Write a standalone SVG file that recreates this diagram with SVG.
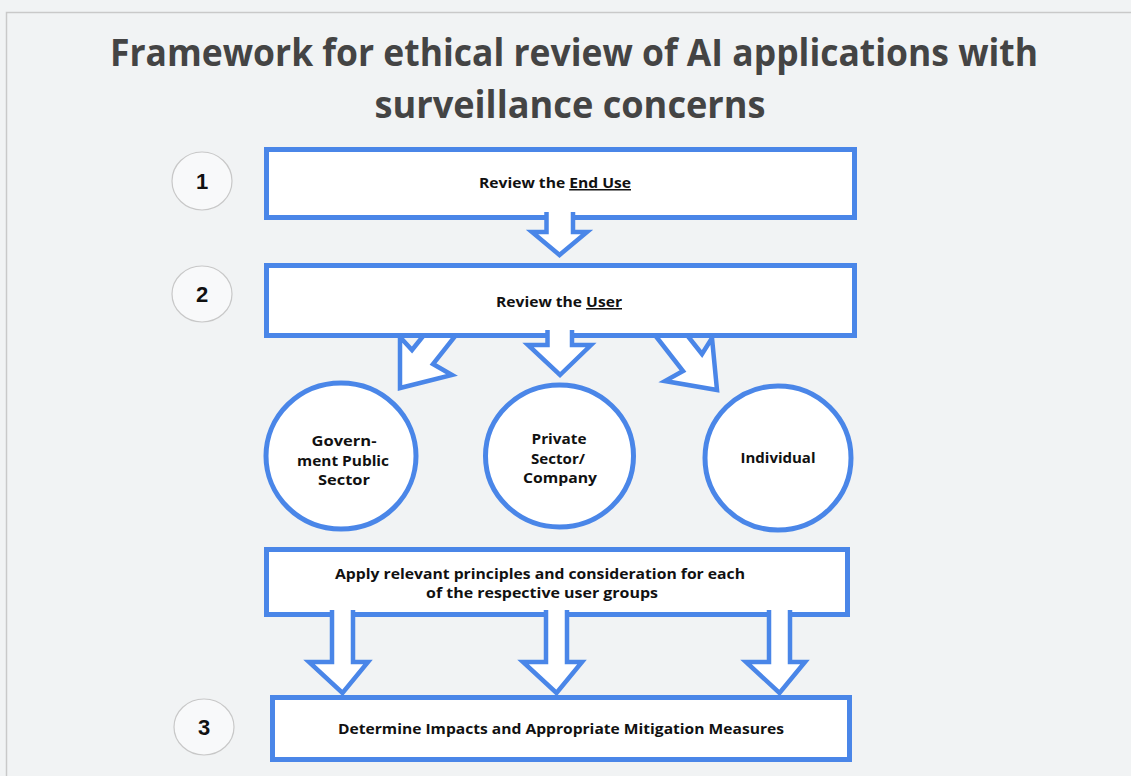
<svg xmlns="http://www.w3.org/2000/svg" width="1131" height="776" viewBox="0 0 1131 776">
  <style>
    .bg { fill: #f1f3f4; }
    .frame { fill: #f1f3f4; stroke: #c9c9c9; stroke-width: 1.5; }
    .title { font-family: "Open Sans", "Liberation Sans", sans-serif; font-weight: 700; font-size: 37px; fill: #444444; text-anchor: middle; }
    .box { fill: #ffffff; stroke: #4a86e8; stroke-width: 5; stroke-linejoin: miter; }
    .ring { fill: #ffffff; stroke: #4a86e8; stroke-width: 5; }
    .arrow { fill: #ffffff; stroke: #4a86e8; stroke-width: 4.5; stroke-linejoin: miter; }
    .num { fill: #f8f9fa; stroke: #c8c8c8; stroke-width: 1.2; }
    .numtxt { font-family: "Liberation Sans", Arial, sans-serif; font-weight: 700; font-size: 22px; fill: #111111; text-anchor: middle; }
    .label { font-family: "Open Sans", "Liberation Sans", sans-serif; font-weight: 700; font-size: 15px; fill: #111111; text-anchor: middle; }
    .u { text-decoration: underline; }
  </style>

  <rect class="bg" x="0" y="0" width="1131" height="776"/>
  <rect class="frame" x="6.5" y="12.5" width="1200" height="800"/>

  <g id="title">
    <text class="title" x="574" y="66" textLength="928" lengthAdjust="spacingAndGlyphs">Framework for ethical review of AI applications with</text>
    <text class="title" x="570" y="118" textLength="391" lengthAdjust="spacingAndGlyphs">surveillance concerns</text>
  </g>

  <!-- diagonal arrows sit behind the "Review the User" box -->
  <g id="connectors-back">
    <path class="arrow" d="M428,330 L412,350 L400,337 L400,388 L452,375 L433,364 L460,330 Z"/>
    <path class="arrow" d="M651,330 L683,371 L665,381 L717,390 L712,338 L702,354 L683,330 Z"/>
  </g>

  <g id="step-1">
    <ellipse class="num" cx="202" cy="181" rx="30" ry="29"/>
    <text class="numtxt" x="202" y="189">1</text>
  </g>
  <g id="step-2">
    <ellipse class="num" cx="202" cy="294" rx="30" ry="28"/>
    <text class="numtxt" x="202" y="302">2</text>
  </g>
  <g id="step-3">
    <ellipse class="num" cx="204" cy="727" rx="30" ry="28"/>
    <text class="numtxt" x="204" y="735">3</text>
  </g>

  <g id="end-use">
    <rect class="box" x="266.5" y="149.5" width="588" height="68"/>
    <text class="label" x="555" y="188" textLength="152" lengthAdjust="spacingAndGlyphs">Review the <tspan class="u">End Use</tspan></text>
  </g>

  <g id="user">
    <rect class="box" x="266.5" y="265.5" width="588" height="70"/>
    <text class="label" x="559" y="307" textLength="126" lengthAdjust="spacingAndGlyphs">Review the <tspan class="u">User</tspan></text>
  </g>

  <g id="government">
    <ellipse class="ring" cx="341" cy="456" rx="75" ry="73"/>
    <text class="label" x="344" y="446" textLength="65" lengthAdjust="spacingAndGlyphs">Govern-</text>
    <text class="label" x="343" y="466" textLength="92" lengthAdjust="spacingAndGlyphs">ment Public</text>
    <text class="label" x="344" y="485" textLength="52" lengthAdjust="spacingAndGlyphs">Sector</text>
  </g>

  <g id="private-sector">
    <ellipse class="ring" cx="559.5" cy="456" rx="74" ry="71"/>
    <text class="label" x="559" y="444" textLength="55" lengthAdjust="spacingAndGlyphs">Private</text>
    <text class="label" x="558" y="464" textLength="54" lengthAdjust="spacingAndGlyphs">Sector/</text>
    <text class="label" x="560" y="483" textLength="74" lengthAdjust="spacingAndGlyphs">Company</text>
  </g>

  <g id="individual">
    <ellipse class="ring" cx="778" cy="458" rx="73" ry="72"/>
    <text class="label" x="778" y="463" textLength="75" lengthAdjust="spacingAndGlyphs">Individual</text>
  </g>

  <g id="principles">
    <rect class="box" x="266.5" y="549.5" width="581" height="65"/>
    <text class="label" x="540" y="579" textLength="410" lengthAdjust="spacingAndGlyphs">Apply relevant principles and consideration for each</text>
    <text class="label" x="542" y="598" textLength="232" lengthAdjust="spacingAndGlyphs">of the respective user groups</text>
  </g>

  <g id="mitigation">
    <rect class="box" x="272.5" y="697.5" width="577" height="62"/>
    <text class="label" x="561" y="734" textLength="446" lengthAdjust="spacingAndGlyphs">Determine Impacts and Appropriate Mitigation Measures</text>
  </g>

  <!-- down arrows drawn over the box edges they leave from -->
  <g id="connectors">
    <path class="arrow" d="M546.5,212 V232 H532 L559.5,255 L587,232 H573 V212"/>
    <path class="arrow" d="M547.5,330 V345 H528 L560,375 L591,345 H572 V330"/>
    <path class="arrow" d="M332,610 V662 H309 L342.5,693 L368,662 H353 V610"/>
    <path class="arrow" d="M546,610 V662 H523 L556.5,693 L582,662 H567 V610"/>
    <path class="arrow" d="M769,610 V662 H746 L779.5,693 L805,662 H790 V610"/>
  </g>
</svg>
